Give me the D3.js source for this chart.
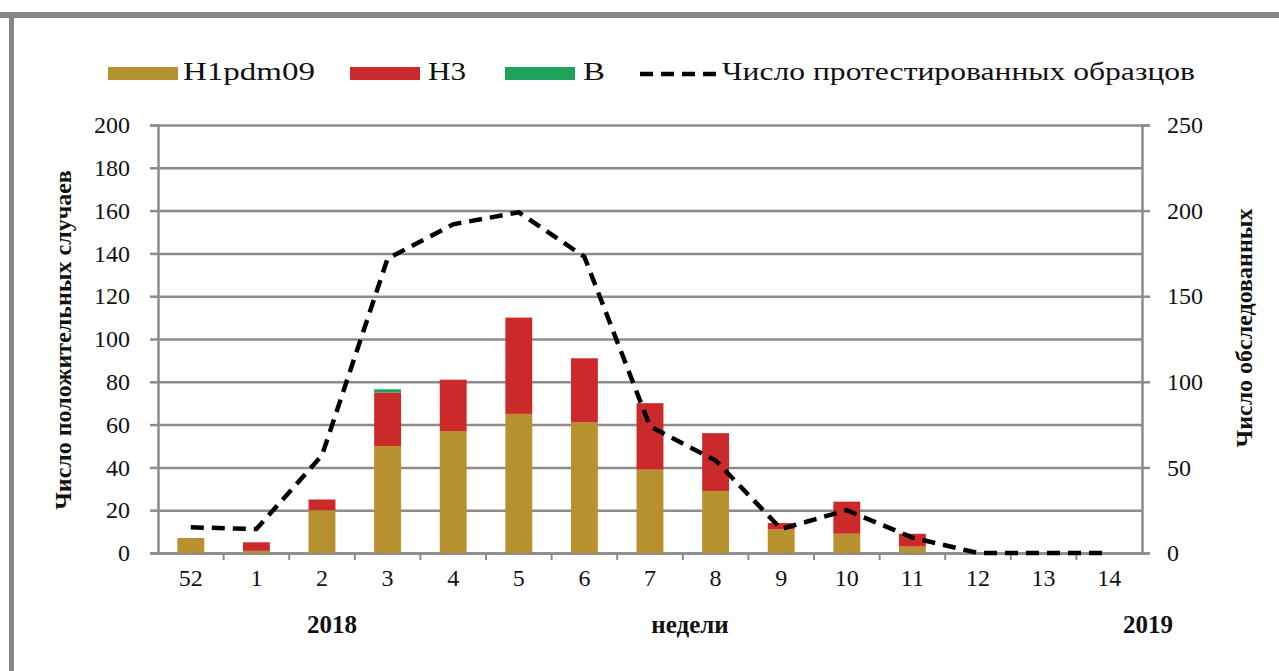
<!DOCTYPE html>
<html>
<head>
<meta charset="utf-8">
<script src="https://cdn.jsdelivr.net/npm/d3@7"></script>
<style>
  body { margin: 0; background: #fff; }
  svg { display: block; }
  svg text { font-family: "Liberation Serif", "DejaVu Serif", "Noto Serif", "Liberation Sans Narrow", "DejaVu Sans Condensed", serif !important; fill: #111; }
</style>
</head>
<body>
<div id="chart"></div>
<script>
// weeks of the season (2018 -> 2019)
const weeks = ["52", "1", "2", "3", "4", "5", "6", "7", "8", "9", "10", "11", "12", "13", "14"];
const h1pdm09 = [7, 1, 20, 50, 57, 65, 61, 39, 29, 11, 9, 3, 0, 0, 0];
const h3 = [0, 4, 5, 25, 24, 45, 30, 31, 27, 3, 15, 6, 0, 0, 0];
const fluB = [0, 0, 0, 1.5, 0, 0, 0, 0, 0, 0, 0, 0, 0, 0, 0];
const tested = [15, 14, 57, 172, 192, 199, 173, 74, 54, 14, 25, 9, 0, 0, 0];
const leftTicks = [0, 20, 40, 60, 80, 100, 120, 140, 160, 180, 200];
const rightTicks = [0, 50, 100, 150, 200, 250];

const W = 1279, H = 671;
const margin = { top: 125, right: 137, bottom: 118, left: 158 };

const svg = d3.select("#chart").append("svg")
  .attr("width", W)
  .attr("height", H);

// grey frame of the figure
svg.append("rect").attr("x", 0).attr("y", 12).attr("width", W).attr("height", 6).attr("fill", "#858585");
svg.append("rect").attr("x", 9).attr("y", 12).attr("width", 5).attr("height", H).attr("fill", "#858585");

const x = d3.scaleBand()
  .domain(weeks)
  .range([margin.left, W - margin.right]);

const yL = d3.scaleLinear().domain([0, 200]).range([H - margin.bottom, margin.top]);
const yR = d3.scaleLinear().domain([0, 250]).range([H - margin.bottom, margin.top]);

const gridColor = "#8c8c8c";

function styleText(g) {
  g.selectAll("text").style("font-size", "24px").attr("fill", "#111");
}

// gridlines + left ticks
svg.append("g")
  .attr("transform", `translate(${margin.left},0)`)
  .call(d3.axisLeft(yL).tickValues(leftTicks).tickSize(8).tickPadding(20))
  .call(g => g.selectAll(".tick line").clone()
      .attr("x2", W - margin.left - margin.right))
  .call(g => g.selectAll("line, path").attr("stroke", gridColor).attr("stroke-width", 2.5))
  .call(styleText);

// right axis
svg.append("g")
  .attr("transform", `translate(${W - margin.right},0)`)
  .call(d3.axisRight(yR).tickValues(rightTicks).tickSize(8).tickPadding(17))
  .call(g => g.selectAll("line, path").attr("stroke", gridColor).attr("stroke-width", 2.5))
  .call(styleText);

// x axis
const xAxis = svg.append("g")
  .attr("transform", `translate(0,${H - margin.bottom})`)
  .call(d3.axisBottom(x).tickSize(0).tickPadding(16))
  .call(g => g.select(".domain").attr("stroke", gridColor).attr("stroke-width", 2.5))
  .call(styleText);

// small ticks between categories
xAxis.selectAll(".sep")
  .data(weeks.slice(1))
  .join("line")
  .attr("class", "sep")
  .attr("x1", d => x(d)).attr("x2", d => x(d))
  .attr("y1", 0).attr("y2", 7)
  .attr("stroke", gridColor).attr("stroke-width", 2);

// stacked bars
const rows = weeks.map((w, i) => ({ week: w, H1pdm09: h1pdm09[i], H3: h3[i], B: fluB[i] }));
const keys = ["H1pdm09", "H3", "B"];
const colors = { H1pdm09: "#B8912F", H3: "#CC2A2A", B: "#1FA35C" };
const stack = d3.stack().keys(keys)(rows);
const barW = x.bandwidth() * 0.41;

svg.append("g")
  .selectAll("g")
  .data(stack)
  .join("g")
  .attr("fill", d => colors[d.key])
  .selectAll("rect")
  .data(d => d)
  .join("rect")
  .attr("x", d => x(d.data.week) + (x.bandwidth() - barW) / 2)
  .attr("width", barW)
  .attr("y", d => yL(d[1]))
  .attr("height", d => yL(d[0]) - yL(d[1]));

// tested samples line
const line = d3.line()
  .x((d, i) => x(weeks[i]) + x.bandwidth() / 2)
  .y(d => yR(d));

svg.append("path")
  .datum(tested)
  .attr("d", line)
  .attr("fill", "none")
  .attr("stroke", "#000")
  .attr("stroke-width", 4.5)
  .attr("stroke-dasharray", "13,8");

// axis titles
svg.append("text")
  .attr("transform", `translate(65,340) rotate(-90)`)
  .attr("text-anchor", "middle")
  .attr("dominant-baseline", "middle")
  .style("font-size", "24px")
  .style("font-weight", "bold")
  .text("Число положительных случаев");

svg.append("text")
  .attr("transform", `translate(1246,328) rotate(-90)`)
  .attr("text-anchor", "middle")
  .attr("dominant-baseline", "middle")
  .style("font-size", "24px")
  .style("font-weight", "bold")
  .text("Число обследованных");

const bottomY = 633;
[["2018", 332], ["недели", 690], ["2019", 1148]].forEach(([t, cx]) => {
  svg.append("text")
    .attr("x", cx).attr("y", bottomY)
    .attr("text-anchor", "middle")
    .style("font-size", "25px")
    .style("font-weight", "bold")
    .text(t);
});

// legend
const legend = svg.append("g").attr("transform", "translate(0,74)");
const legendItems = [
  { label: "H1pdm09", color: colors.H1pdm09, sx: 108, tx: 183, len: 132 },
  { label: "H3", color: colors.H3, sx: 350, tx: 428, len: 38 },
  { label: "B", color: colors.B, sx: 505, tx: 583, len: 22 }
];
legendItems.forEach(d => {
  legend.append("rect")
    .attr("x", d.sx).attr("y", -7).attr("width", 70).attr("height", 13)
    .attr("fill", d.color);
  legend.append("text")
    .attr("x", d.tx).attr("y", 0)
    .attr("dominant-baseline", "middle")
    .style("font-size", "26px")
    .attr("textLength", d.len)
    .attr("lengthAdjust", "spacingAndGlyphs")
    .text(d.label);
});
legend.append("line")
  .attr("x1", 640).attr("x2", 720).attr("y1", 0).attr("y2", 0)
  .attr("stroke", "#000").attr("stroke-width", 4.5)
  .attr("stroke-dasharray", "13,8");
legend.append("text")
  .attr("x", 722).attr("y", 0)
  .attr("dominant-baseline", "middle")
  .style("font-size", "26px")
  .attr("textLength", 473)
  .attr("lengthAdjust", "spacingAndGlyphs")
  .text("Число протестированных образцов");
</script>
</body>
</html>
